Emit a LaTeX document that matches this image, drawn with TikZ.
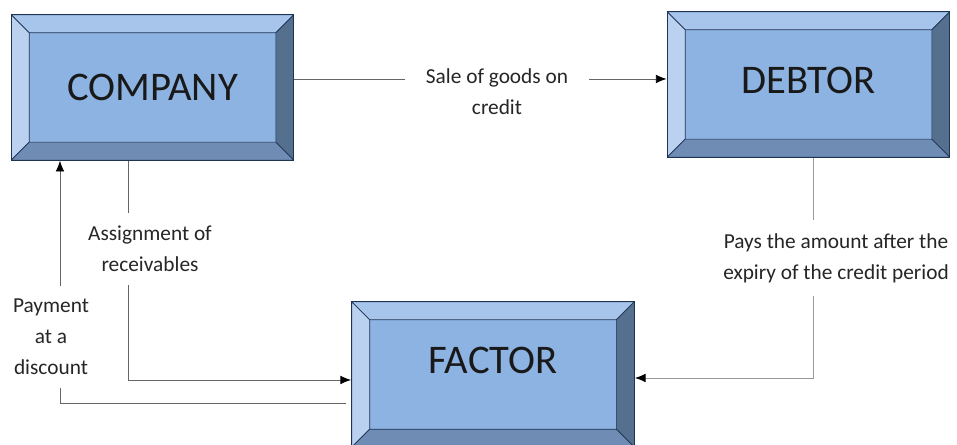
\documentclass[tikz,border=0pt]{standalone}
\usepackage{fontspec}
\setmainfont{Carlito}
\usetikzlibrary{arrows.meta}

\definecolor{boxface}{HTML}{8DB3E2}
\definecolor{bevtop}{HTML}{A7C5EB}
\definecolor{bevleft}{HTML}{BAD2F0}
\definecolor{bevright}{HTML}{556F8F}
\definecolor{bevbottom}{HTML}{6E8CB4}
\definecolor{boxedge}{HTML}{1F3354}

\tikzset{
    bevelbox/.style={rectangle, draw=boxedge, line width=0.9pt, fill=boxface,
        minimum width=212pt, minimum height=109pt, inner sep=0pt,
        font=\fontsize{30.5}{35}\selectfont, text=black!90,
        path picture={
            \coordinate (bb-nw) at (path picture bounding box.north west);
            \coordinate (bb-ne) at (path picture bounding box.north east);
            \coordinate (bb-sw) at (path picture bounding box.south west);
            \coordinate (bb-se) at (path picture bounding box.south east);
            \coordinate (in-nw) at ([shift={(13.5pt,-13.5pt)}]bb-nw);
            \coordinate (in-ne) at ([shift={(-13.5pt,-13.5pt)}]bb-ne);
            \coordinate (in-sw) at ([shift={(13.5pt,13.5pt)}]bb-sw);
            \coordinate (in-se) at ([shift={(-13.5pt,13.5pt)}]bb-se);
            \filldraw[fill=bevtop, draw=boxedge, line width=0.5pt] (bb-nw) -- (bb-ne) -- (in-ne) -- (in-nw) -- cycle;
            \filldraw[fill=bevleft, draw=boxedge, line width=0.5pt] (bb-nw) -- (bb-sw) -- (in-sw) -- (in-nw) -- cycle;
            \filldraw[fill=bevright, draw=boxedge, line width=0.5pt] (bb-ne) -- (bb-se) -- (in-se) -- (in-ne) -- cycle;
            \filldraw[fill=bevbottom, draw=boxedge, line width=0.5pt] (bb-sw) -- (bb-se) -- (in-se) -- (in-sw) -- cycle;
        }},
    conn/.style={draw=black!60, line width=0.6pt, -{Latex[length=8pt, width=6.5pt, color=black]}},
    lbl/.style={fill=white, align=center, inner xsep=16pt, inner ysep=10pt,
        font=\fontsize{16}{23.25}\selectfont, text=black!85},
}

\begin{document}
\begin{tikzpicture}[x=0.75pt, y=-0.75pt]
    \useasboundingbox (0,0) rectangle (957,445);

    \node (company) [bevelbox] at (152.5, 87.5) {COMPANY};
    \node (debtor) [bevelbox, text depth=7pt] at (808.5, 84.5) {DEBTOR};
    \node (factor) [bevelbox, text depth=21pt] at (493, 374.5) {FACTOR};

    % connectors first, labels cover them
    \draw[conn] ([yshift=6.4pt]company.east) -- ([yshift=6.4pt]company.east -| debtor.west);
    \draw[conn] ([xshift=-18.4pt]company.south) |- ([yshift=-4.1pt]factor.west);
    \draw[conn] ([shift={(-3.75pt,-21.4pt)}]factor.west) -| ([xshift=-69.4pt]company.south);
    \draw[conn, draw=black!40] ([xshift=3.4pt]debtor.south) |- ([yshift=-2.6pt]factor.east);

    \node (salelbl) [lbl] at (497, 92) {Sale of goods on\\credit};
    \node (assignlbl) [lbl] at (150, 249) {Assignment of\\receivables};
    \node (paylbl) [lbl] at (51, 337) {Payment\\at a\\discount};
    \node (payslbl) [lbl] at (836, 258) {Pays the amount after the\\expiry of the credit period};
\end{tikzpicture}
\end{document}
